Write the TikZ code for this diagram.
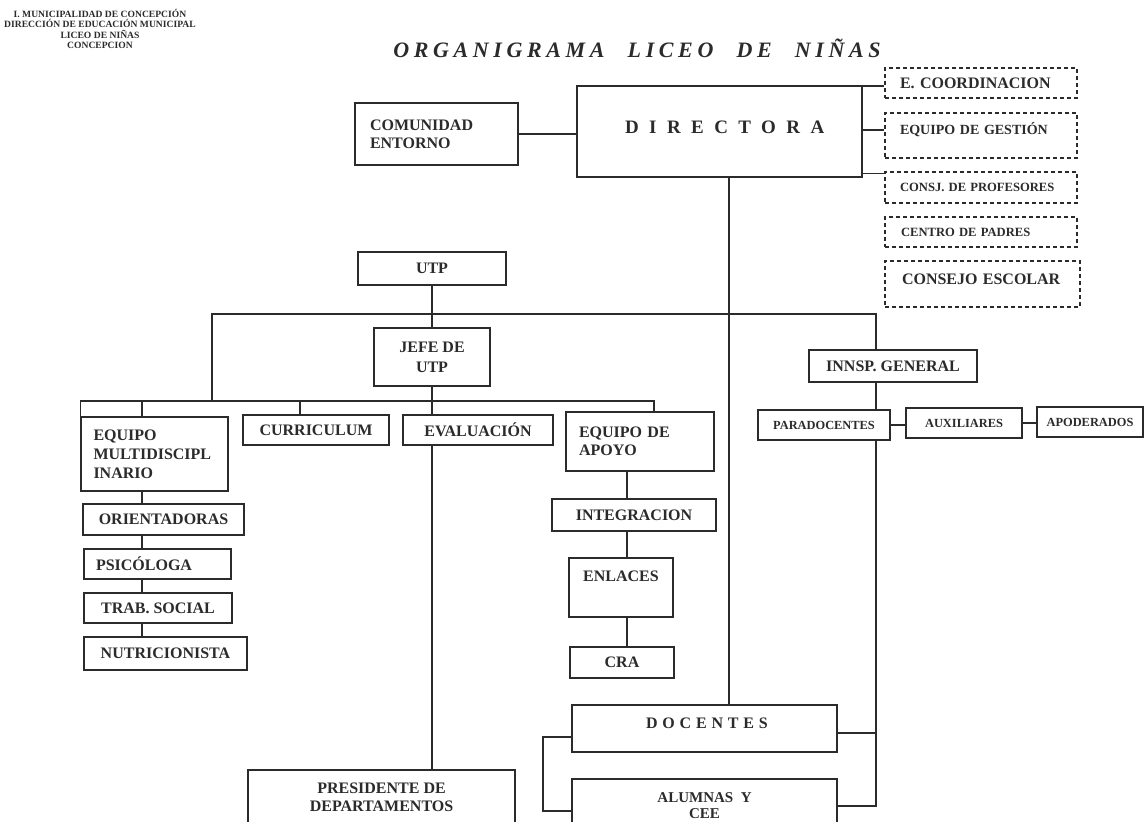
\documentclass[tikz,border=0pt]{standalone}
\usepackage{fontspec}
\setmainfont{Liberation Serif}
\definecolor{ink}{HTML}{2B2B2B}

\begin{document}
\begin{tikzpicture}[
    x=0.5pt, y=-0.5pt,
    box/.style={rectangle, draw=ink, line width=0.7pt, fill=white, text=ink, inner sep=2pt, align=center, font=\bfseries\fontsize{8}{9.5}\selectfont},
    leftbox/.style={box, align=left},
    dashbox/.style={box, align=left, line width=0.6pt, dash pattern=on 2pt off 1.5pt},
    smallfont/.style={font=\bfseries\fontsize{6.2}{7}\selectfont},
    wire/.style={draw=ink, line width=0.6pt}
]
\useasboundingbox (0,0) rectangle (1145,822);
\clip (0,0) rectangle (1145,822);

% ==================== HEADER ====================
\node[text=ink, align=center, font=\bfseries\fontsize{4.8}{5.3}\selectfont] (header) at (100,29) {I. MUNICIPALIDAD DE CONCEPCIÓN\\DIRECCIÓN DE EDUCACIÓN MUNICIPAL\\LICEO DE NIÑAS\\CONCEPCION};
\node[text=ink, font=\bfseries\itshape\fontsize{11}{13}\selectfont\addfontfeature{LetterSpace=21}] (title) at (637,48) {ORGANIGRAMA\hspace{6.5pt} LICEO\hspace{6.5pt} DE\hspace{6.5pt} NIÑAS};

% ==================== DIRECTION ====================
\node[leftbox, text width=66.5pt, minimum width=81.5pt, minimum height=31pt, font=\bfseries\fontsize{8}{9}\selectfont] (comunidad) at (436.5,134) {COMUNIDAD\\ENTORNO};
\node[box, minimum width=142.5pt, minimum height=45.5pt, text height=6.3pt, text depth=4.5pt, font=\bfseries\fontsize{9.5}{11}\selectfont\addfontfeature{LetterSpace=55}] (directora) at (719.5,131.5) {DIRECTORA\hspace{-5.2pt}};

\node[dashbox, text width=81pt, minimum width=96pt, minimum height=15pt] (ecoord) at (981,83) {E. COORDINACION};
\node[dashbox, text width=81pt, minimum width=96pt, minimum height=22.5pt, text height=4.6pt, text depth=5.5pt, font=\bfseries\fontsize{7}{8}\selectfont] (gestion) at (981,135.5) {EQUIPO DE GESTIÓN};
\node[dashbox, text width=81pt, minimum width=96pt, minimum height=15.5pt, font=\bfseries\fontsize{6.3}{7}\selectfont] (consj) at (981,187.5) {CONSJ. DE PROFESORES};
\node[dashbox, text width=80pt, minimum width=96pt, minimum height=15pt, font=\bfseries\fontsize{6.3}{7}\selectfont] (padres) at (981,232) {CENTRO DE PADRES};
\node[dashbox, text width=80.5pt, minimum width=97.5pt, minimum height=23pt, text height=5.3pt, text depth=5pt] (escolar) at (982.5,284) {CONSEJO ESCOLAR};

% ==================== UTP BRANCH ====================
\node[box, minimum width=74pt, minimum height=16.5pt] (utp) at (432,268.5) {UTP};
\node[box, minimum width=58pt, minimum height=29pt, font=\bfseries\fontsize{8}{10}\selectfont] (jefe) at (432,357) {JEFE DE\\UTP};

\node[leftbox, text width=61pt, minimum width=73.5pt, minimum height=37pt] (multi) at (154.5,454) {EQUIPO\\MULTIDISCIPL\\INARIO};
\node[box, minimum width=73pt, minimum height=15pt] (curriculum) at (316,430) {CURRICULUM};
\node[box, minimum width=75pt, minimum height=15pt] (eval) at (478,430) {EVALUACIÓN};
\node[leftbox, text width=61pt, minimum width=74pt, minimum height=29.5pt, font=\bfseries\fontsize{8}{9}\selectfont] (apoyo) at (640,441.5) {EQUIPO DE\\APOYO};

\node[box, minimum width=80.5pt, minimum height=15.5pt] (orient) at (163.5,519.5) {ORIENTADORAS};
\node[leftbox, text width=61.5pt, minimum width=73.5pt, minimum height=15pt] (psico) at (157.5,564) {PSICÓLOGA};
\node[box, minimum width=74pt, minimum height=15pt] (trab) at (158,608) {TRAB. SOCIAL};
\node[box, minimum width=81.5pt, minimum height=16.5pt] (nutri) at (165.5,653.5) {NUTRICIONISTA};

\node[box, minimum width=82pt, minimum height=16pt] (integ) at (634,515) {INTEGRACION};
\node[box, minimum width=52pt, minimum height=29.5pt, text height=5.3pt, text depth=11.5pt] (enlaces) at (621,587.5) {ENLACES};
\node[box, minimum width=52pt, minimum height=15.5pt] (cra) at (622,662.5) {CRA};

\node[box, minimum width=133.5pt, minimum height=27pt, font=\bfseries\fontsize{8}{9}\selectfont] (presidente) at (381.5,797) {PRESIDENTE DE\\DEPARTAMENTOS};

% ==================== INSPECTORIA ====================
\node[box, minimum width=84pt, minimum height=16pt] (innsp) at (893,366) {INNSP. GENERAL};
\node[box, smallfont, minimum width=66pt, minimum height=15pt] (parado) at (824,425) {PARADOCENTES};
\node[box, smallfont, minimum width=58pt, minimum height=15pt] (auxil) at (964,423) {AUXILIARES};
\node[box, smallfont, minimum width=53pt, minimum height=15pt] (apod) at (1090,422) {APODERADOS};

% ==================== DOCENTES ====================
\node[box, minimum width=132.5pt, minimum height=23.5pt, text height=5.3pt, text depth=5.5pt, font=\bfseries\fontsize{8}{9.5}\selectfont\addfontfeature{LetterSpace=30}] (docentes) at (704.5,728.5) {DOCENTES\hspace{-2.4pt}};
\node[box, minimum width=132.5pt, minimum height=27pt, font=\bfseries\fontsize{7.5}{8}\selectfont] (alumnas) at (704.5,806) {ALUMNAS\ \ Y\\CEE};

% ==================== CONNECTORS ====================
\coordinate (dcol) at (729,0);
\coordinate (icol) at (876,0);
\coordinate (ucol) at (212,0);
\coordinate (mcol) at (142,0);
\coordinate (ccol) at (300,0);
\coordinate (pcol) at (654,0);
\coordinate (acol) at (627,0);
\coordinate (topbar) at (0,314);
\coordinate (subbar) at (0,401);
\coordinate (lbend) at (543,811);

% Directora
\draw[wire] (comunidad.east) -- (comunidad.east -| directora.west);
\draw[wire] ([yshift=-1.5pt]ecoord.west -| directora.east) -- ([yshift=-1.5pt]ecoord.west);
\draw[wire] ([yshift=2.75pt]gestion.west -| directora.east) -- ([yshift=2.75pt]gestion.west);
\draw[wire] ([yshift=-1pt]consj.north west -| directora.east) -- ([yshift=-1pt]consj.north west);
\draw[wire] (dcol |- directora.south) -- (dcol |- docentes.north);

% UTP
\draw[wire] (utp.south) -- (jefe.north);
\draw[wire] (ucol |- subbar) -- (ucol |- topbar) -- (icol |- topbar) -- (icol |- innsp.north);
\draw[wire] (multi.north west) -- (multi.north west |- subbar) -- (pcol |- subbar) -- (pcol |- apoyo.north);
\draw[wire] (mcol |- subbar) -- (mcol |- multi.north);
\draw[wire] (ccol |- subbar) -- (ccol |- curriculum.north);
\draw[wire] (jefe.south) -- (jefe.south |- eval.north);
\draw[wire] (jefe.south |- eval.south) -- (jefe.south |- presidente.north);

% Equipo multidisciplinario
\draw[wire] (mcol |- multi.south) -- (mcol |- orient.north);
\draw[wire] (mcol |- orient.south) -- (mcol |- psico.north);
\draw[wire] (mcol |- psico.south) -- (mcol |- trab.north);
\draw[wire] (mcol |- trab.south) -- (mcol |- nutri.north);

% Equipo de apoyo
\draw[wire] (acol |- apoyo.south) -- (acol |- integ.north);
\draw[wire] (acol |- integ.south) -- (acol |- enlaces.north);
\draw[wire] (acol |- enlaces.south) -- (acol |- cra.north);

% Inspectoria
\draw[wire] (icol |- innsp.south) -- (icol |- parado.north);
\draw[wire] (parado.east) -- (parado.east -| auxil.west);
\draw[wire] (auxil.east) -- (auxil.east -| apod.west);
\draw[wire] (icol |- parado.south) -- (icol |- alumnas.east) -- (alumnas.east);
\draw[wire] ([yshift=-2.25pt]docentes.east) -- ([yshift=-2.25pt]docentes.east -| icol);

% Docentes y alumnas
\draw[wire] ([yshift=-4.25pt]docentes.west) -| (lbend) -- (lbend -| alumnas.west);

\end{tikzpicture}
\end{document}
